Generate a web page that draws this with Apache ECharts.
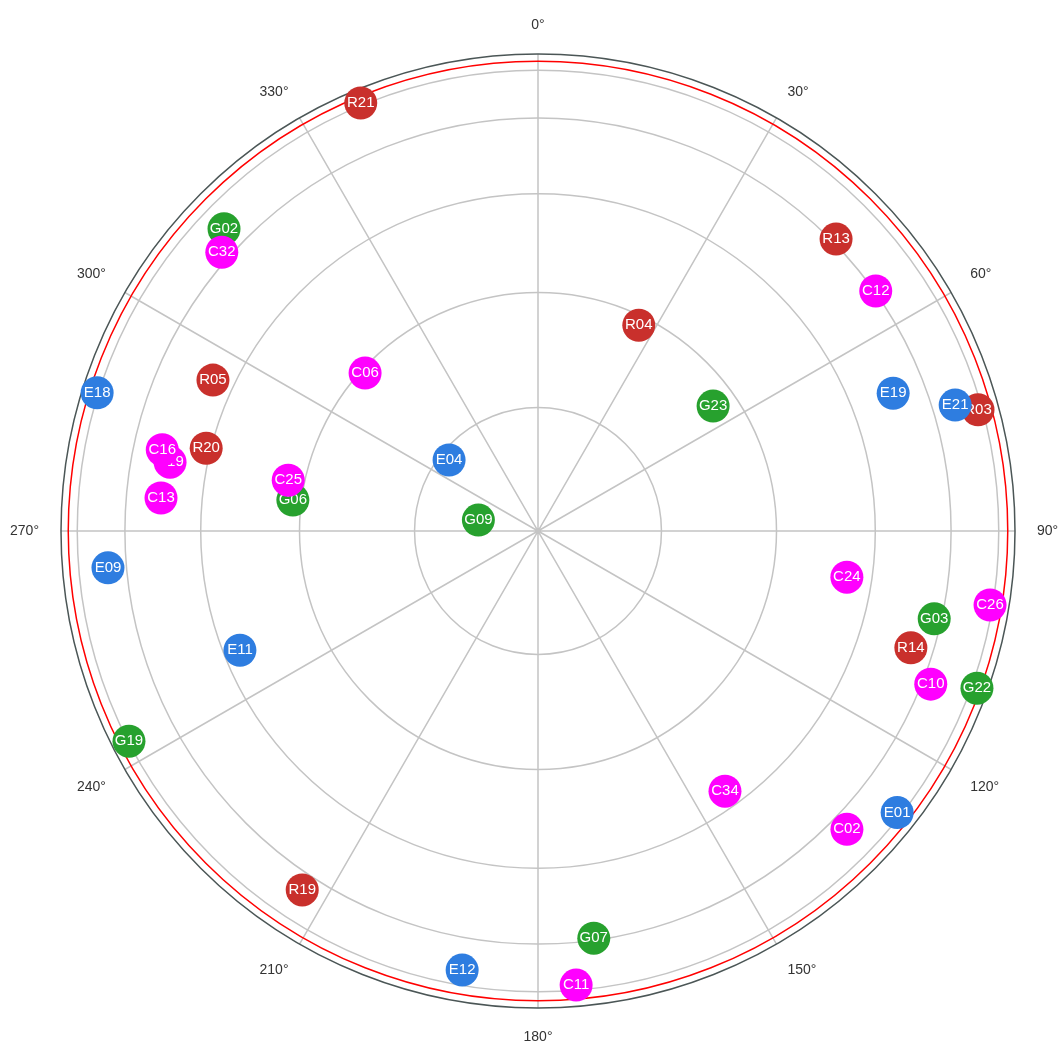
<!DOCTYPE html>
<html>
<head>
<meta charset="utf-8">
<title>Sky plot</title>
<script src="https://cdn.jsdelivr.net/npm/echarts@6/dist/echarts.min.js"></script>
<style>
  html, body { margin: 0; background: #fff; }
  #chart { width: 1062px; height: 1053px; }
</style>
</head>
<body>
<div id="chart"></div>
<script>
// satellites: name, azimuth (deg, clockwise from north), elevation (deg)
const satNames = ['G02', 'G03', 'G06', 'G07', 'G09', 'G19', 'G22', 'G23',
  'R03', 'R04', 'R05', 'R13', 'R14', 'R19', 'R20', 'R21',
  'E01', 'E04', 'E09', 'E11', 'E12', 'E18', 'E19', 'E21',
  'C02', 'C06', 'C10', 'C11', 'C12', 'C13', 'C19', 'C16', 'C24', 'C25', 'C26', 'C32', 'C34'];
const satAzimuth = [313.9, 102.5, 277.2, 172.2, 280.4, 242.8, 109.7, 54.5,
  74.6, 26.1, 294.9, 45.6, 107.4, 213.3, 284.0, 337.5,
  128.1, 308.6, 265.1, 248.2, 189.8, 287.4, 68.8, 73.2,
  134.0, 312.4, 111.3, 175.2, 54.6, 275.0, 280.6, 282.2, 98.5, 281.5, 99.3, 311.4, 144.3];
const satElevation = [24.0, 31.7, 58.8, 30.5, 82.7, 15.4, 12.2, 63.2,
  16.9, 61.3, 41.3, 29.0, 35.0, 25.8, 44.2, 13.8,
  16.9, 76.2, 25.2, 47.7, 20.9, 14.4, 37.0, 24.0,
  25.8, 60.6, 27.9, 17.2, 29.7, 37.5, 38.3, 36.3, 49.1, 57.7, 16.2, 27.9, 47.8];

const ringElevations = [75, 60, 45, 30, 15];
const maskElevation = 10;

const systemColors = {
  G: '#27a12e',
  R: '#c9302c',
  E: '#2e7de0',
  C: '#ff00ff'
};

// orthographic sky projection: radius = cos(elevation)
const toRadius = (el) => Math.cos(el * Math.PI / 180);

const satData = satNames.map((name, i) => [toRadius(satElevation[i]), satAzimuth[i]]);
const ringData = ringElevations.map((el) => [toRadius(el), 0]);

const chart = echarts.init(document.getElementById('chart'));

const renderRing = (color) => (params, api) => {
  const c = api.coord([0, 0]);
  const p = api.coord([api.value(0), 0]);
  const r = Math.hypot(p[0] - c[0], p[1] - c[1]);
  return {
    type: 'circle',
    shape: { cx: c[0], cy: c[1], r },
    style: { fill: 'none', stroke: color, lineWidth: 1.5 },
    silent: true
  };
};

chart.setOption({
  animation: false,
  polar: {
    center: [538, 531],
    radius: 477
  },
  angleAxis: {
    type: 'value',
    min: 0,
    max: 360,
    interval: 30,
    startAngle: 90,
    clockwise: true,
    axisLine: { lineStyle: { color: '#4b5656', width: 1.5 } },
    axisTick: { show: false },
    axisLabel: {
      margin: 22,
      align: 'center',
      verticalAlign: 'middle',
      color: '#333',
      fontSize: 14,
      fontFamily: 'Liberation Sans, Arial, sans-serif',
      formatter: (v) => (v === 360 ? '' : v + '°')
    },
    splitLine: { lineStyle: { color: '#c4c4c4', width: 1.5 } }
  },
  radiusAxis: {
    type: 'value',
    min: 0,
    max: 1,
    axisLine: { show: false },
    axisTick: { show: false },
    axisLabel: { show: false },
    splitLine: { show: false }
  },
  series: [
    {
      type: 'custom',
      coordinateSystem: 'polar',
      renderItem: renderRing('#c4c4c4'),
      data: ringData,
      z: 1
    },
    {
      type: 'custom',
      coordinateSystem: 'polar',
      renderItem: renderRing('#ff0000'),
      data: [[toRadius(maskElevation), 0]],
      z: 2
    },
    {
      type: 'custom',
      coordinateSystem: 'polar',
      data: satData,
      z: 5,
      renderItem: (params, api) => {
        const p = api.coord([api.value(0), api.value(1)]);
        const name = satNames[params.dataIndex];
        return {
          type: 'group',
          children: [
            {
              type: 'circle',
              shape: { cx: p[0], cy: p[1], r: 16.5 },
              style: { fill: systemColors[name[0]] }
            },
            {
              type: 'text',
              style: {
                text: name,
                x: p[0],
                y: p[1],
                align: 'center',
                verticalAlign: 'middle',
                fill: '#fff',
                fontSize: 15,
                fontFamily: 'Liberation Sans, Arial, sans-serif'
              }
            }
          ]
        };
      }
    }
  ]
});
</script>
</body>
</html>
